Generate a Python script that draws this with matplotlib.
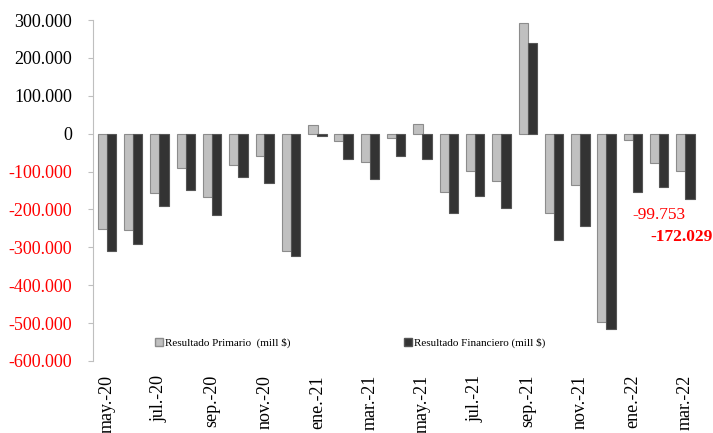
import matplotlib
matplotlib.use("Agg")
import matplotlib.pyplot as plt
from matplotlib.patches import Patch
from matplotlib.ticker import FuncFormatter
import numpy as np

plt.rcParams['font.family'] = ['Liberation Serif', 'DejaVu Serif']

meses = ["may.-20", "jun.-20", "jul.-20", "ago.-20", "sep.-20", "oct.-20", "nov.-20", "dic.-20",
         "ene.-21", "feb.-21", "mar.-21", "abr.-21", "may.-21", "jun.-21", "jul.-21", "ago.-21",
         "sep.-21", "oct.-21", "nov.-21", "dic.-21", "ene.-22", "feb.-22", "mar.-22"]

primario = [-251500, -255000, -156500, -91500, -168000, -83000, -60000, -310000,
            24000, -20000, -75000, -11000, 25500, -154000, -99000, -126000,
            292000, -210000, -135500, -498000, -17000, -77000, -99753]

financiero = [-310000, -291000, -192000, -148000, -214500, -114000, -129000, -322000,
              -5000, -67000, -120000, -58000, -67000, -210000, -165000, -196000,
              239000, -280000, -245000, -515000, -154000, -140000, -172029]

fig = plt.figure(figsize=(7.13, 4.33), dpi=100)
ax = fig.add_axes([0.1304, 0.1663, 0.8496, 0.7875])

x = np.arange(len(meses))
w = 0.36
ax.bar(x - 0.17, primario, w, color="#c0c0c0", edgecolor="#8c8c8c", linewidth=0.8, zorder=2)
ax.bar(x + 0.17, financiero, w, color="#333333", edgecolor="#555555", linewidth=0.8, zorder=3)

ax.set_xlim(-0.53, 22.5)
ax.set_ylim(-600000, 300000)
ax.set_yticks(np.arange(-600000, 300001, 100000))

def fmt(v, pos):
    if v == 0:
        return "0"
    s = "{:,.0f}".format(abs(v)).replace(",", ".")
    return ("-" if v < 0 else "") + s

ax.yaxis.set_major_formatter(FuncFormatter(fmt))
ax.tick_params(axis="y", labelsize=13, length=3.6, color="#bfbfbf", direction="out", pad=11.4)
for lbl, v in zip(ax.get_yticklabels(), ax.get_yticks()):
    lbl.set_color("red" if v < 0 else "black")

ax.set_xticks(x[::2])
ax.set_xticklabels(meses[::2], rotation=90, fontsize=13)
ax.tick_params(axis="x", length=0, pad=10)

for s in ["top", "right", "bottom"]:
    ax.spines[s].set_visible(False)
ax.spines["left"].set_color("#bfbfbf")

ax.text(21, -213700, "-99.753", color="red", fontsize=12.5, ha="center", va="center")
ax.text(21.85, -274000, "-172.029", color="red", fontsize=12.5, fontweight="bold",
        ha="center", va="center")

handles = [Patch(facecolor="#c0c0c0", edgecolor="#8c8c8c", label="Resultado Primario  (mill $)"),
           Patch(facecolor="#333333", edgecolor="#555555", label="Resultado Financiero (mill $)")]
fig.legend(handles=handles, ncol=2, frameon=False, fontsize=8,
           loc="center left", bbox_to_anchor=(155 / 713, 1 - 343 / 433),
           handlelength=0.7, handleheight=0.7, handletextpad=0.2, columnspacing=10.2,
           borderaxespad=0, borderpad=0)

fig.savefig("out.png", dpi=100)
